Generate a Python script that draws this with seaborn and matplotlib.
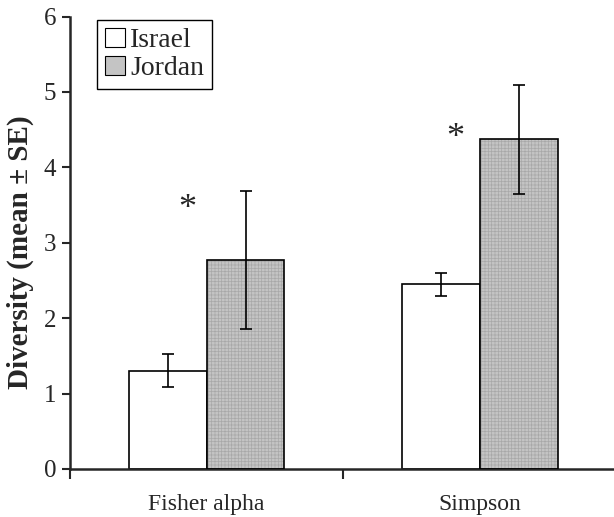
import pandas as pd
import matplotlib.pyplot as plt
import seaborn as sns
from matplotlib.patches import Rectangle

# values
indices = ['Fisher alpha', 'Simpson']
countries = ['Israel', 'Jordan']
israel_mean = [1.30, 2.45]
israel_se = [0.22, 0.15]
jordan_mean = [2.77, 4.37]
jordan_se = [0.92, 0.72]
star_x = [-0.07, 0.91]
star_y = [3.44, 4.38]

df = pd.DataFrame({
    'index': indices * 2,
    'country': ['Israel'] * 2 + ['Jordan'] * 2,
    'mean': israel_mean + jordan_mean,
    'se': israel_se + jordan_se,
})

sns.set_style('ticks')
plt.rcParams['font.family'] = ['Liberation Serif', 'DejaVu Serif']
plt.rcParams['hatch.linewidth'] = 0.5

fig = plt.figure(figsize=(6.14, 5.17), dpi=100)
ax = fig.add_axes([0.114, 0.093, 0.89, 0.875])

sns.barplot(data=df, x='index', y='mean', hue='country', order=indices,
            hue_order=countries, palette={'Israel': 'white', 'Jordan': '#c4c4c4'},
            width=0.57, errorbar=None, edgecolor='black', linewidth=1.2,
            saturation=1, ax=ax)

# grid hatch on Jordan bars, outline redrawn on top
for bar in ax.containers[1]:
    bar.set_hatch('+++++')
    bar.set_edgecolor('#a8a8a8')
    bar.set_linewidth(0)
    ax.add_patch(Rectangle(bar.get_xy(), bar.get_width(), bar.get_height(),
                           fill=False, edgecolor='black', linewidth=1.2, zorder=3))

for cont, se in zip(ax.containers, [israel_se, jordan_se]):
    xs = [b.get_x() + b.get_width() / 2 for b in cont]
    ys = [b.get_height() for b in cont]
    ax.errorbar(xs, ys, yerr=se, fmt='none', ecolor='black', elinewidth=1.2,
                capsize=4, capthick=1.2, zorder=4)

for sx, sy in zip(star_x, star_y):
    ax.text(sx, sy, '*', ha='center', va='center', fontsize=26)

ax.set_xlim(-0.5, 1.5)
ax.set_ylim(0, 6)
ax.set_yticks(range(7))
ax.set_xticks([-0.5, 0.5, 1.5], minor=True)
ax.tick_params(axis='x', which='major', length=0, labelsize=17, pad=18)
ax.tick_params(axis='x', which='minor', length=7, width=1.5, direction='out')
ax.tick_params(axis='y', length=6, width=1.5, labelsize=18, direction='out', pad=4)
ax.set_xlabel('')
ax.set_ylabel('Diversity (mean ± SE)', fontsize=21, fontweight='bold')
ax.yaxis.set_label_coords(-0.066, 0.48)
sns.despine(ax=ax)
for s in ['left', 'bottom']:
    ax.spines[s].set_linewidth(1.8)

leg = ax.legend(loc='upper left', bbox_to_anchor=(0.049, 0.993), borderaxespad=0,
                fontsize=20, handlelength=0.7, handleheight=0.7, handletextpad=0.2,
                fancybox=False, framealpha=1, borderpad=0.3, labelspacing=0.08)
leg.get_frame().set_edgecolor('black')
leg.get_frame().set_linewidth(1.0)
for h in leg.legend_handles:
    h.set_linewidth(0.8)
    h.set_edgecolor('black')

fig.savefig('out.png', dpi=100)
